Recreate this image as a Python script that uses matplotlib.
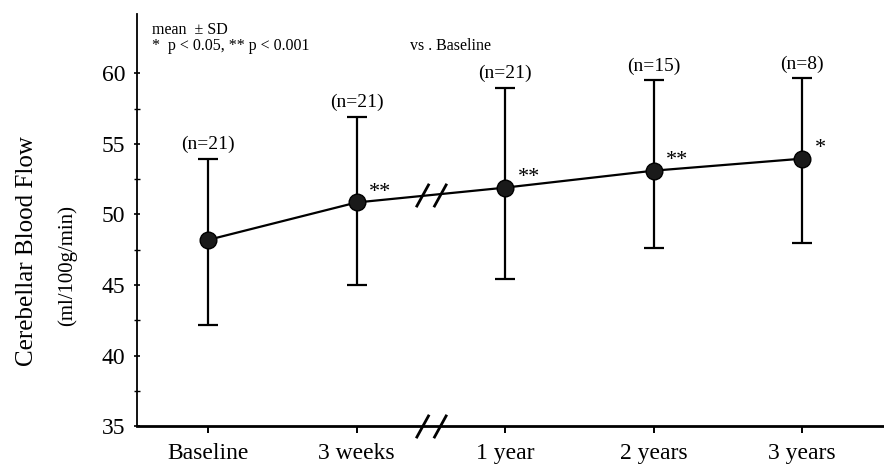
import matplotlib
matplotlib.use("Agg")
import matplotlib.pyplot as plt
import numpy as np
from matplotlib.path import Path

plt.rcParams['font.family'] = ['Liberation Serif', 'DejaVu Serif']

# values
timepoints = ['Baseline', '3 weeks', '1 year', '2 years', '3 years']
mean_cbf = [48.2, 50.85, 51.9, 53.1, 53.95]
sd_upper = [53.95, 56.9, 58.95, 59.5, 59.65]
sd_lower = [42.2, 45.0, 45.45, 47.65, 48.0]
n_labels = ['(n=21)', '(n=21)', '(n=21)', '(n=15)', '(n=8)']
stars = ['', '**', '**', '**', '*']

x = np.arange(len(timepoints))
mean_cbf = np.array(mean_cbf)
err = [mean_cbf - np.array(sd_lower), np.array(sd_upper) - mean_cbf]

fig = plt.figure(figsize=(8.84, 4.70), dpi=100)
ax = fig.add_axes([0.155, 0.0926, 0.845, 0.878])

ax.errorbar(x, mean_cbf, yerr=err, color='black', lw=1.6, elinewidth=1.6,
            capsize=7, capthick=1.6, marker='o', markersize=12,
            markerfacecolor='#1a1a1a', markeredgecolor='black', zorder=3)

for xi, top, lab in zip(x, sd_upper, n_labels):
    ax.annotate(lab, (xi, top), xytext=(0, 4), textcoords='offset points',
                ha='center', va='bottom', fontsize=14)

for xi, m, s in zip(x, mean_cbf, stars):
    if s:
        ax.annotate(s, (xi, m), xytext=(9, 7), textcoords='offset points',
                    ha='left', va='center', fontsize=16)

# axis break marks between 3 weeks and 1 year
brk = Path([(-2.6, -2), (-0.4, 2), (0.4, -2), (2.6, 2)],
           [Path.MOVETO, Path.LINETO, Path.MOVETO, Path.LINETO])
xb = (x[1] + x[2]) / 2
yb = (mean_cbf[1] + mean_cbf[2]) / 2
ax.plot([xb], [yb], marker=brk, markersize=22, markeredgewidth=2.0,
        color='black', markerfacecolor='none', zorder=4)
ax.plot([xb], [0], marker=brk, markersize=22, markeredgewidth=2.0,
        color='black', markerfacecolor='none', clip_on=False, zorder=4,
        transform=ax.get_xaxis_transform())

ax.set_xlim(-0.478, 4.552)
ax.set_ylim(35, 64.2)
ax.set_xticks(x)
ax.set_xticklabels(timepoints, fontsize=17)
ax.set_yticks(np.arange(35, 61, 5))
ax.set_yticks(np.arange(37.5, 60, 5), minor=True)
ax.tick_params(axis='y', labelsize=17, direction='inout', length=5, width=1.2, pad=6)
ax.tick_params(axis='y', which='minor', direction='inout', length=4, width=1.0)
ax.tick_params(axis='x', direction='out', length=5, width=1.4, pad=7)

for side in ['top', 'right']:
    ax.spines[side].set_visible(False)
ax.spines['left'].set_linewidth(1.3)
ax.spines['bottom'].set_linewidth(2.0)

fig.text(27 / 884, 1 - 251 / 470, 'Cerebellar Blood Flow', rotation=90,
         ha='center', va='center', fontsize=18)
fig.text(67 / 884, 1 - 265 / 470, '(ml/100g/min)', rotation=90,
         ha='center', va='center', fontsize=15)

fig.text(152 / 884, 1 - 34 / 470, 'mean  \u00b1 SD', ha='left', va='baseline', fontsize=11.5)
fig.text(152 / 884, 1 - 50 / 470, '*  p < 0.05, ** p < 0.001', ha='left', va='baseline', fontsize=11.5)
fig.text(410 / 884, 1 - 50 / 470, 'vs . Baseline', ha='left', va='baseline', fontsize=11.5)

fig.savefig('out.png', dpi=100)
